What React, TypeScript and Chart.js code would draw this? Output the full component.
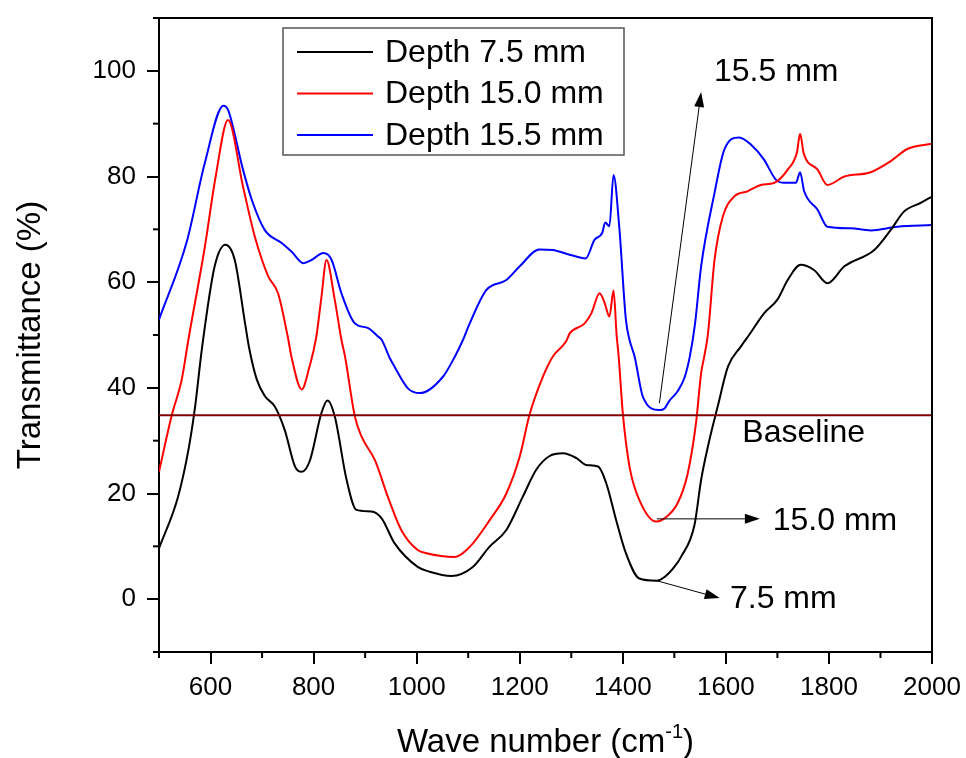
import { useEffect, useRef } from "react";
import { Chart, registerables } from "chart.js";

Chart.register(...registerables);

const FONT = '"Liberation Sans", Arial, Helvetica, sans-serif';

const seriesLabels = ["Depth 7.5 mm", "Depth 15.0 mm", "Depth 15.5 mm"];
const seriesColors = ["#000000", "#ff0000", "#0000ff"];

const waveBlack = [500, 537, 557, 570, 583, 608, 629, 647, 667, 675, 690, 705, 725, 744, 764, 777, 793, 815, 827, 841, 864, 883, 912, 932, 957, 1002, 1025, 1067, 1109, 1141, 1174, 1206, 1232, 1258, 1284, 1310, 1329, 1352, 1368, 1387, 1406, 1432, 1465, 1481, 1500, 1513, 1539, 1552, 1568, 1584, 1604, 1629, 1645, 1674, 1700, 1720, 1745, 1771, 1797, 1830, 1888, 1920, 1946, 1978, 2000];
const transBlack = [9.6, 19.4, 28.2, 36.4, 47.2, 63.0, 67.1, 64.2, 52.2, 47.5, 41.5, 38.5, 36.4, 32.0, 25.1, 24.1, 26.3, 35.2, 37.6, 34.6, 22.6, 16.9, 16.6, 15.3, 10.6, 6.1, 5.2, 4.4, 6.1, 9.9, 13.1, 19.4, 24.5, 27.1, 27.6, 26.7, 25.4, 25.1, 21.9, 15.0, 8.7, 3.9, 3.5, 4.2, 6.1, 8.0, 14.0, 22.6, 30.1, 36.4, 44.0, 47.8, 50.0, 54.1, 56.7, 60.4, 63.3, 62.3, 59.8, 63.0, 66.1, 69.9, 73.4, 75.0, 76.2];

const waveRed = [500, 525, 544, 557, 589, 610, 634, 663, 686, 712, 731, 751, 757, 777, 792, 805, 815, 825, 841, 854, 861, 880, 893, 919, 944, 970, 1002, 1019, 1074, 1103, 1142, 1174, 1200, 1219, 1245, 1264, 1290, 1297, 1326, 1339, 1355, 1365, 1374, 1382, 1388, 1392, 1400, 1413, 1432, 1465, 1481, 1506, 1526, 1542, 1552, 1558, 1565, 1578, 1594, 1616, 1642, 1668, 1694, 1720, 1738, 1744, 1751, 1778, 1797, 1830, 1881, 1920, 1952, 2000];
const transRed = [24.1, 34.9, 41.5, 49.1, 66.7, 80.0, 90.7, 78.1, 68.6, 61.1, 57.9, 49.1, 45.9, 39.7, 44.0, 49.5, 57.0, 64.2, 56.7, 49.1, 45.9, 34.6, 30.8, 26.3, 19.4, 13.1, 9.3, 8.7, 8.0, 9.9, 15.0, 20.0, 27.0, 34.9, 42.1, 45.9, 48.8, 50.3, 52.2, 54.1, 57.9, 56.0, 53.5, 58.4, 50.0, 45.9, 35.2, 25.1, 18.8, 14.7, 15.3, 18.1, 23.8, 33.3, 42.8, 45.9, 50.0, 64.2, 72.4, 76.2, 77.2, 78.4, 78.8, 81.3, 84.6, 88.1, 84.4, 81.3, 78.4, 80.0, 80.8, 82.9, 85.2, 86.2];

const waveBlue = [500, 554, 589, 625, 634, 663, 680, 705, 738, 757, 780, 796, 819, 835, 854, 880, 906, 925, 932, 948, 957, 983, 1006, 1051, 1074, 1090, 1103, 1135, 1174, 1200, 1238, 1264, 1297, 1328, 1345, 1360, 1366, 1374, 1382, 1393, 1406, 1413, 1423, 1439, 1471, 1481, 1490, 1506, 1520, 1530, 1540, 1552, 1578, 1597, 1626, 1649, 1674, 1697, 1713, 1736, 1744, 1752, 1778, 1797, 1842, 1881, 1933, 2000];
const transBlue = [52.9, 67.7, 82.6, 93.4, 92.6, 81.3, 75.6, 69.9, 67.4, 65.8, 63.6, 64.2, 65.5, 64.2, 57.9, 52.2, 51.3, 49.7, 49.1, 45.6, 44.0, 39.9, 39.0, 42.1, 45.9, 49.1, 52.2, 58.5, 60.4, 63.0, 66.2, 66.1, 65.2, 64.5, 68.0, 69.3, 71.3, 70.6, 80.3, 70.6, 52.9, 49.1, 45.9, 38.3, 35.8, 36.1, 37.5, 39.3, 42.0, 45.9, 52.0, 63.0, 76.9, 85.1, 87.4, 86.0, 83.2, 79.4, 78.8, 78.8, 80.8, 77.2, 73.7, 70.5, 70.2, 69.8, 70.5, 70.8];

const baselineValue = 34.8;

const xMajorTicks = [600, 800, 1000, 1200, 1400, 1600, 1800, 2000];
const xMinorTicks = [500, 700, 900, 1100, 1300, 1500, 1700, 1900];
const yMajorTicks = [0, 20, 40, 60, 80, 100];
const yMinorTicks = [-10, 10, 30, 50, 70, 90, 110];

const annotationLabels = ["15.5 mm", "15.0 mm", "7.5 mm"];
const annotationFrom = [[1471, 37.1], [1466, 15.2], [1462, 3.6]];
const annotationTo = [[1552, 96.0], [1666, 15.2], [1588, 0.2]];
const annotationText = [[1577, 99.8], [1691, 14.8], [1608, 0.0]];
const baselineLabel = "Baseline";
const baselineLabelAt = [1632, 31.4];

function toPoints(xs: number[], ys: number[]) {
  return xs.map((x, i) => ({ x, y: ys[i] }));
}

function drawArrow(ctx: CanvasRenderingContext2D, x1: number, y1: number, x2: number, y2: number) {
  const ang = Math.atan2(y2 - y1, x2 - x1);
  const len = 15;
  const hw = 5;
  const bx = x2 - len * Math.cos(ang);
  const by = y2 - len * Math.sin(ang);
  ctx.beginPath();
  ctx.moveTo(x1, y1);
  ctx.lineTo(bx, by);
  ctx.strokeStyle = "#000";
  ctx.lineWidth = 1;
  ctx.stroke();
  ctx.beginPath();
  ctx.moveTo(x2, y2);
  ctx.lineTo(bx + hw * Math.sin(ang), by - hw * Math.cos(ang));
  ctx.lineTo(bx - hw * Math.sin(ang), by + hw * Math.cos(ang));
  ctx.closePath();
  ctx.fillStyle = "#000";
  ctx.fill();
}

const decorPlugin = {
  id: "decor",
  afterDraw(chart: any) {
    const ctx: CanvasRenderingContext2D = chart.ctx;
    const { left, right, top, bottom } = chart.chartArea;
    const xs = chart.scales.x;
    const ys = chart.scales.y;
    ctx.save();

    ctx.strokeStyle = "#000";
    ctx.lineWidth = 2;
    ctx.beginPath();
    ctx.moveTo(left, top);
    ctx.lineTo(right, top);
    ctx.lineTo(right, bottom);
    ctx.stroke();

    xMinorTicks.forEach((v) => {
      const px = xs.getPixelForValue(v);
      ctx.beginPath();
      ctx.moveTo(px, bottom);
      ctx.lineTo(px, bottom + 6);
      ctx.stroke();
    });
    yMinorTicks.forEach((v) => {
      const py = ys.getPixelForValue(v);
      ctx.beginPath();
      ctx.moveTo(left - 6, py);
      ctx.lineTo(left, py);
      ctx.stroke();
    });

    ctx.fillStyle = "#000";
    ctx.font = `32px ${FONT}`;
    ctx.textBaseline = "middle";
    ctx.textAlign = "left";
    annotationLabels.forEach((lab, i) => {
      drawArrow(
        ctx,
        xs.getPixelForValue(annotationFrom[i][0]),
        ys.getPixelForValue(annotationFrom[i][1]),
        xs.getPixelForValue(annotationTo[i][0]),
        ys.getPixelForValue(annotationTo[i][1])
      );
      ctx.fillStyle = "#000";
      ctx.fillText(lab, xs.getPixelForValue(annotationText[i][0]), ys.getPixelForValue(annotationText[i][1]));
    });
    ctx.fillText(baselineLabel, xs.getPixelForValue(baselineLabelAt[0]), ys.getPixelForValue(baselineLabelAt[1]));

    const lx = left + 124;
    const ly = top + 10;
    const lw = 341;
    const lh = 127;
    ctx.fillStyle = "#fff";
    ctx.fillRect(lx, ly, lw, lh);
    ctx.strokeStyle = "#555";
    ctx.lineWidth = 1.5;
    ctx.strokeRect(lx, ly, lw, lh);
    seriesLabels.forEach((lab, i) => {
      const yy = ly + 24 + i * 41.5;
      ctx.strokeStyle = seriesColors[i];
      ctx.lineWidth = 2;
      ctx.beginPath();
      ctx.moveTo(lx + 14, yy);
      ctx.lineTo(lx + 90, yy);
      ctx.stroke();
      ctx.fillStyle = "#000";
      ctx.font = `32px ${FONT}`;
      ctx.textAlign = "left";
      ctx.textBaseline = "middle";
      ctx.fillText(lab, lx + 102, yy + 1);
    });

    ctx.save();
    ctx.translate(31, (top + bottom) / 2);
    ctx.rotate(-Math.PI / 2);
    ctx.font = `33px ${FONT}`;
    ctx.textAlign = "center";
    ctx.textBaseline = "middle";
    ctx.fillStyle = "#000";
    ctx.fillText("Transmittance (%)", 0, 0);
    ctx.restore();

    const mainFont = `33px ${FONT}`;
    const supFont = `20px ${FONT}`;
    const p1 = "Wave number (cm";
    const p2 = "-1";
    const p3 = ")";
    ctx.font = mainFont;
    const w1 = ctx.measureText(p1).width;
    const w3 = ctx.measureText(p3).width;
    ctx.font = supFont;
    const w2 = ctx.measureText(p2).width;
    const total = w1 + w2 + w3;
    const cx = (left + right) / 2;
    const baseY = 752;
    let sx = cx - total / 2;
    ctx.textAlign = "left";
    ctx.textBaseline = "alphabetic";
    ctx.fillStyle = "#000";
    ctx.font = mainFont;
    ctx.fillText(p1, sx, baseY);
    sx += w1;
    ctx.font = supFont;
    ctx.fillText(p2, sx, baseY - 14);
    sx += w2;
    ctx.font = mainFont;
    ctx.fillText(p3, sx, baseY);

    ctx.restore();
  },
};

export default function App() {
  const canvasRef = useRef<HTMLCanvasElement | null>(null);

  useEffect(() => {
    if (!canvasRef.current) return;
    const makeSeries = (i: number, xs: number[], ys: number[]) => ({
      label: seriesLabels[i],
      data: toPoints(xs, ys),
      borderColor: seriesColors[i],
      backgroundColor: seriesColors[i],
      borderWidth: 2,
      pointRadius: 0,
      cubicInterpolationMode: "monotone" as const,
      fill: false,
    });
    const chart = new Chart(canvasRef.current, {
      type: "line",
      data: {
        datasets: [
          {
            label: "Baseline",
            data: [
              { x: 500, y: baselineValue },
              { x: 2000, y: baselineValue },
            ],
            borderColor: "#800000",
            borderWidth: 2,
            pointRadius: 0,
            fill: false,
          },
          makeSeries(0, waveBlack, transBlack),
          makeSeries(1, waveRed, transRed),
          makeSeries(2, waveBlue, transBlue),
        ],
      },
      options: {
        animation: false,
        responsive: false,
        maintainAspectRatio: false,
        layout: { padding: { top: 18, right: 34, bottom: 0, left: 0 } },
        plugins: {
          legend: { display: false },
          tooltip: { enabled: false },
        },
        scales: {
          x: {
            type: "linear",
            min: 500,
            max: 2000,
            afterBuildTicks: (scale: any) => {
              scale.ticks = xMajorTicks.map((v) => ({ value: v }));
            },
            afterFit: (scale: any) => {
              scale.height = 106;
              scale.paddingLeft = 0;
              scale.paddingRight = 0;
            },
            grid: {
              display: true,
              drawOnChartArea: false,
              drawTicks: true,
              tickLength: 12,
              color: "#000",
              lineWidth: 2,
            },
            border: { display: true, color: "#000", width: 2 },
            ticks: {
              color: "#000",
              font: { family: FONT, size: 26 },
              padding: 8,
              maxRotation: 0,
              autoSkip: false,
              callback: (v: any) => String(v),
            },
          },
          y: {
            type: "linear",
            min: -10,
            max: 110,
            afterBuildTicks: (scale: any) => {
              scale.ticks = yMajorTicks.map((v) => ({ value: v }));
            },
            afterFit: (scale: any) => {
              scale.width = 159;
              scale.paddingTop = 0;
              scale.paddingBottom = 0;
            },
            grid: {
              display: true,
              drawOnChartArea: false,
              drawTicks: true,
              tickLength: 12,
              color: "#000",
              lineWidth: 2,
            },
            border: { display: true, color: "#000", width: 2 },
            ticks: {
              color: "#000",
              font: { family: FONT, size: 26 },
              padding: 11,
              autoSkip: false,
              callback: (v: any) => String(v),
            },
          },
        },
      },
      plugins: [decorPlugin],
    });
    return () => chart.destroy();
  }, []);

  return (
    <div style={{ position: "fixed", left: 0, top: 0, width: 966, height: 758, background: "#fff" }}>
      <canvas ref={canvasRef} width={966} height={758} style={{ display: "block" }} />
    </div>
  );
}
